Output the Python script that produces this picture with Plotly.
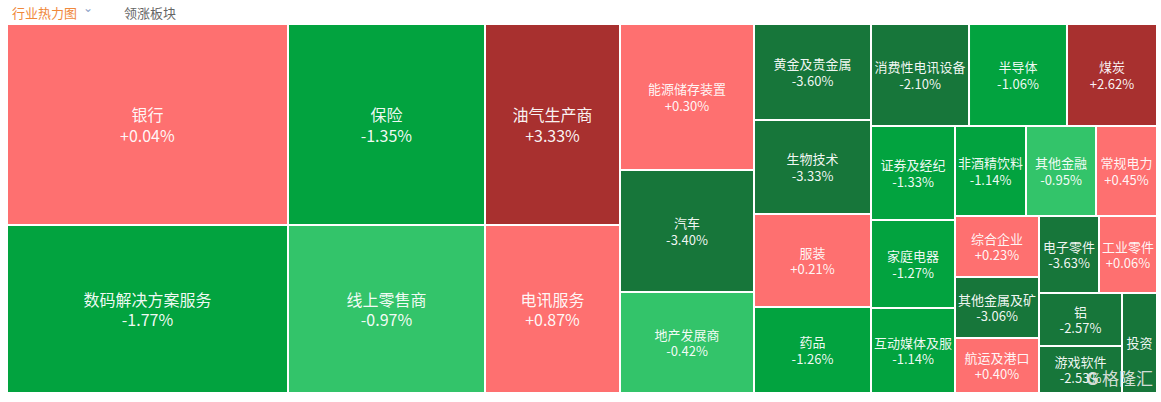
import plotly.graph_objects as go

sectors = ["银行", "数码解决方案服务", "保险", "线上零售商", "油气生产商", "电讯服务",
           "能源储存装置", "汽车", "地产发展商", "黄金及贵金属", "生物技术", "服装", "药品",
           "消费性电讯设备", "半导体", "煤炭", "证券及经纪", "家庭电器", "互动媒体及服",
           "非酒精饮料", "其他金融", "常规电力", "综合企业", "其他金属及矿", "航运及港口",
           "电子零件", "工业零件", "铝", "游戏软件", "投资"]
weights = [56481, 47208, 39597, 33096, 27135, 22680,
           19564, 16348, 13534, 11232, 10998, 10881, 10062,
           9996, 9990, 9180, 7896, 7392, 7140,
           6390, 6300, 5490, 5124, 5120, 4625,
           4620, 4466, 4399, 3901, 3500]
changes = [0.04, -1.77, -1.35, -0.97, 3.33, 0.87,
           0.30, -3.40, -0.42, -3.60, -3.33, 0.21, -1.26,
           -2.10, -1.06, 2.62, -1.33, -1.27, -1.14,
           -1.14, -0.95, 0.45, 0.23, -3.06, 0.40,
           -3.63, 0.06, -2.57, -2.53, -2.20]
# tiles too narrow to show the percentage line in the reference
label_only = ["投资"]


def color_for(c):
    if c >= 2:
        return "#A8302F"
    if c >= 0:
        return "#FE7070"
    if c > -1:
        return "#33C46A"
    if c > -2:
        return "#02A33F"
    return "#17763A"


colors = [color_for(c) for c in changes]
tile_text = []
for s, c in zip(sectors, changes):
    if s in label_only:
        tile_text.append(s)
    else:
        tile_text.append(s + "<br>" + ("+" if c >= 0 else "") + f"{c:.2f}%")
font_sizes = [16 if w > 20000 else 13 for w in weights]

fig = go.Figure(go.Treemap(
    labels=sectors,
    parents=[""] * len(sectors),
    values=weights,
    customdata=tile_text,
    texttemplate="%{customdata}",
    textposition="middle center",
    textfont=dict(family="Microsoft YaHei, Noto Sans CJK SC, sans-serif",
                  color="rgba(255,255,255,0.95)", size=font_sizes),
    marker=dict(colors=colors, line=dict(color="#FFFFFF", width=2), pad=dict(t=0, l=0, r=0, b=0)),
    tiling=dict(packing="squarify", squarifyratio=1, pad=0),
    pathbar=dict(visible=False),
    sort=True,
    hoverinfo="skip",
))

fig.update_layout(
    width=1161, height=402,
    margin=dict(l=7, r=4, t=24, b=9),
    paper_bgcolor="white",
    plot_bgcolor="white",
    showlegend=False,
    annotations=[
        dict(text="行业热力图", xref="paper", yref="paper", x=0.0, y=1.0, xshift=3, yshift=23,
             xanchor="left", yanchor="top", showarrow=False,
             font=dict(family="Microsoft YaHei, Noto Sans CJK SC, sans-serif", size=13, color="#F0883A")),
        dict(text="⌄", xref="paper", yref="paper", x=0.0, y=1.0, xshift=74, yshift=25,
             xanchor="left", yanchor="top", showarrow=False,
             font=dict(family="DejaVu Sans, sans-serif", size=12, color="#8FA3C8")),
        dict(text="领涨板块", xref="paper", yref="paper", x=0.0, y=1.0, xshift=115, yshift=23,
             xanchor="left", yanchor="top", showarrow=False,
             font=dict(family="Microsoft YaHei, Noto Sans CJK SC, sans-serif", size=13, color="#666666")),
        dict(text="<b>G</b> 格隆汇", xref="paper", yref="paper", x=1.0, y=0.0, xshift=-2, yshift=1,
             xanchor="right", yanchor="bottom", showarrow=False,
             font=dict(family="Noto Sans CJK SC, sans-serif", size=17, color="rgba(235,235,235,0.9)")),
    ],
)

fig.write_html("out.html", config={"displayModeBar": False},
               post_script="document.body.style.margin='0';document.body.style.padding='0';")
